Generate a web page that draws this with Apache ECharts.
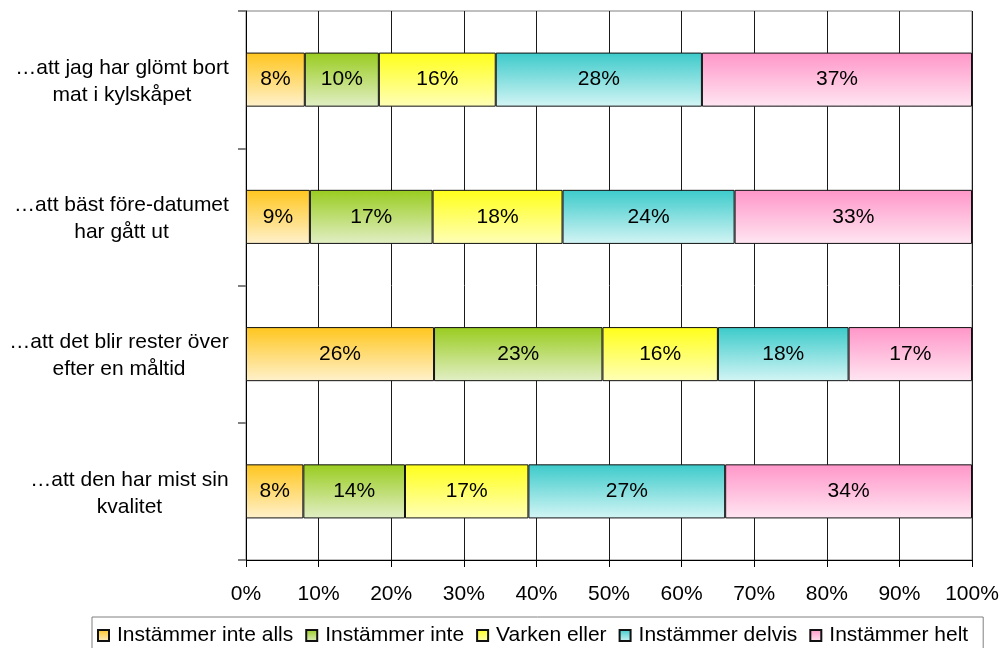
<!DOCTYPE html>
<html>
<head>
<meta charset="utf-8">
<script src="https://cdn.jsdelivr.net/npm/echarts@6/dist/echarts.min.js"></script>
<style>
  html, body { margin: 0; padding: 0; background: #fff; }
  #chart { width: 1005px; height: 648px; }
</style>
</head>
<body>
<div id="chart"></div>
<script>
// Survey statements (rows, top to bottom)
const categories = [
  '…att jag har glömt bort\nmat i kylskåpet',
  '…att bäst före-datumet\nhar gått ut',
  '…att det blir rester över\nefter en måltid',
  '…att den har mist sin\nkvalitet'
];

// Response shares in percent, one array per answer option
const instammerInteAlls = [8.1, 8.8, 25.9, 7.9];
const instammerInte     = [10.2, 16.9, 23.2, 14.0];
const varkenEller       = [16.1, 17.9, 15.9, 17.0];
const instammerDelvis   = [28.4, 23.7, 18.0, 27.1];
const instammerHelt     = [37.2, 32.7, 17.0, 34.0];

const seriesNames = ['Instämmer inte alls', 'Instämmer inte', 'Varken eller', 'Instämmer delvis', 'Instämmer helt'];
const seriesData = [instammerInteAlls, instammerInte, varkenEller, instammerDelvis, instammerHelt];

// Top / bottom colours of the vertical gradient fill for each answer option
const gradients = [
  ['#FFC61E', '#FFF1CC'],
  ['#99CC1F', '#E2EFC6'],
  ['#FFFF1A', '#FFFFB8'],
  ['#3CCACA', '#D4F5F5'],
  ['#FF96C8', '#FFE6F2']
];

const FONT = '"Liberation Sans", Arial, sans-serif';
const FS = 21;

// Width of each category label block, so every line can be centred inside it
const measureCtx = document.createElement('canvas').getContext('2d');
measureCtx.font = FS + 'px ' + FONT;
function blockWidth(label) {
  return Math.max(...label.split('\n').map(l => measureCtx.measureText(l).width));
}
const labelRich = {};
categories.forEach((c, i) => {
  labelRich['c' + i] = {
    align: 'center', width: Math.ceil(blockWidth(c)),
    fontSize: FS, fontFamily: FONT, color: '#000', lineHeight: 27
  };
});

const chart = echarts.init(document.getElementById('chart'), null, { renderer: 'canvas' });

const series = seriesNames.map((name, i) => ({
  name: name,
  type: 'bar',
  stack: 'total',
  barWidth: '39.4%',
  data: seriesData[i],
  itemStyle: {
    color: new echarts.graphic.LinearGradient(0, 0, 0, 1, [
      { offset: 0, color: gradients[i][0] },
      { offset: 1, color: gradients[i][1] }
    ]),
    borderColor: '#111',
    borderWidth: 1
  },
  label: {
    show: true,
    position: 'inside',
    formatter: p => Math.round(p.value) + '%',
    fontSize: FS,
    fontFamily: FONT,
    color: '#000'
  },
  emphasis: { disabled: true }
}));

chart.setOption({
  animation: false,
  backgroundColor: '#fff',
  grid: {
    left: 246, right: 33, top: 11, bottom: 88,
    show: true, borderColor: '#808080', borderWidth: 1
  },
  xAxis: {
    type: 'value',
    min: 0, max: 100, interval: 10,
    axisLine: { show: true, lineStyle: { color: '#000', width: 1 } },
    axisTick: { show: true, length: 7, lineStyle: { color: '#000' } },
    axisLabel: {
      formatter: '{value}%', fontSize: FS, fontFamily: FONT, color: '#000', margin: 24
    },
    splitLine: { show: true, lineStyle: { color: '#1a1a1a', width: 1 } }
  },
  yAxis: {
    type: 'category',
    inverse: true,
    data: categories,
    axisLine: { show: true, lineStyle: { color: '#000', width: 1 } },
    axisTick: { show: true, length: 8, lineStyle: { color: '#808080', width: 2 } },
    axisLabel: {
      align: 'right',
      margin: 17,
      padding: [4, 0, 0, 0],
      formatter: (value, idx) => value.split('\n').map(l => '{c' + idx + '|' + l + '}').join('\n'),
      rich: labelRich
    },
    splitLine: { show: false }
  },
  legend: {
    data: seriesNames,
    left: 92,
    top: 617,
    orient: 'horizontal',
    itemWidth: 11,
    itemHeight: 11,
    itemGap: 12,
    padding: [8, 15, 20, 5],
    borderColor: '#808080',
    borderWidth: 1,
    icon: 'rect',
    textStyle: { fontSize: FS, fontFamily: FONT, color: '#000', padding: [0, 0, 0, 3] },
    selectedMode: false
  },
  series: series
});
</script>
</body>
</html>
